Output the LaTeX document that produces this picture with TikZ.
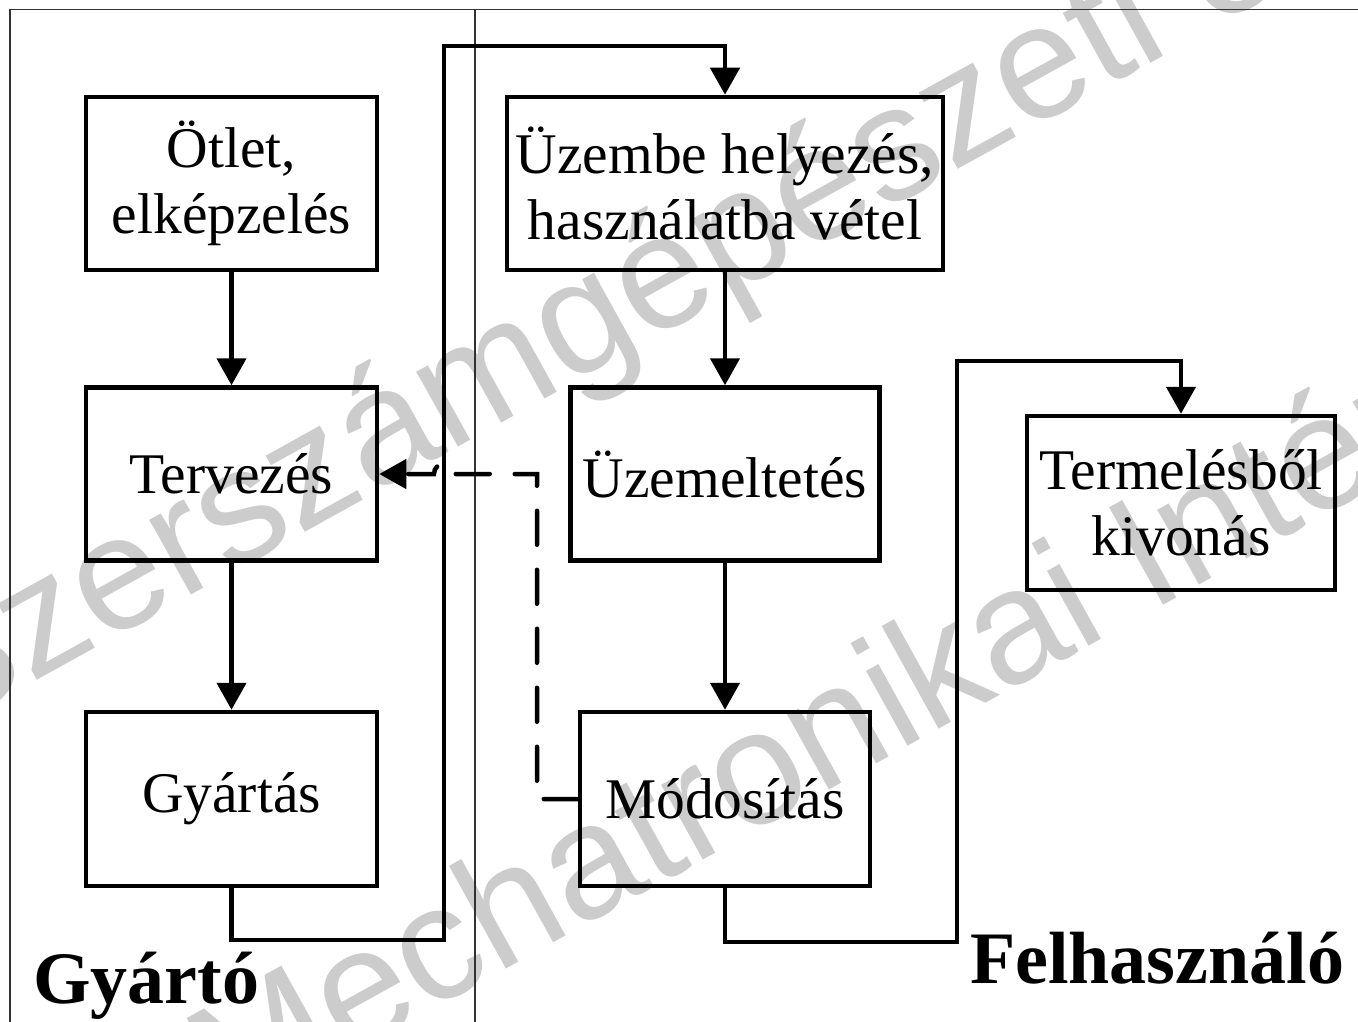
\documentclass[tikz,border=0pt]{standalone}
\usepackage{fontspec}
\setmainfont{Liberation Serif}
\newfontfamily\wmfont{Liberation Sans}
\usetikzlibrary{arrows.meta}
\definecolor{wmgray}{RGB}{204,204,204}
\definecolor{framegray}{RGB}{50,50,50}

\begin{document}
\begin{tikzpicture}[x=1pt,y=-1pt,
  proc/.style={draw, line width=4.5pt, inner sep=0pt, align=center,
    font=\fontsize{57.5}{66}\selectfont},
  flow/.style={line width=4.5pt, line join=miter,
    -{Triangle[length=27pt,width=29pt]}},
  feedback/.style={line width=4.5pt, line cap=round, dash pattern=on 34pt off 25pt,
    -{Triangle[length=27pt,width=29pt]}},
  side/.style={font=\bfseries\fontsize{74}{74}\selectfont, anchor=base west, inner sep=0pt},
  wm/.style={text=wmgray, font=\wmfont\fontsize{162}{162}\selectfont,
    rotate=29, anchor=base west, inner sep=0pt},
  frameline/.style={draw=framegray, line width=1.2pt}]

\useasboundingbox (0,0) rectangle (1358,1022);

% background watermark and the two-column frame
\begin{scope}
  \clip (0,0) rectangle (1358,1022);
  \node[wm] (wm1) at (-63,736) {Szerszámgépészeti és};
  \node[wm] (wm2) at (229,1123) {Mechatronikai Intézet};
  \draw[frameline] (10,9.5) -- (1370,9.5);
  \draw[frameline] (10,9.5) -- (10,1030);
  \draw[frameline] (475,9.5) -- (475,1030);
\end{scope}

% process steps
\node[proc, minimum width=291pt, minimum height=173pt] (otlet)  at (231.5,183.5) {Ötlet,\\elképzelés};
\node[proc, minimum width=291pt, minimum height=173pt] (terv)   at (231.5,474)   {Tervezés};
\node[proc, minimum width=291pt, minimum height=174pt] (gyart)  at (231.5,799)   {Gyártás};
\node[proc, minimum width=436pt, minimum height=173pt] (uzembe) at (725,183.5)   {Üzembe helyezés,\\használatba vétel};
\node[proc, minimum width=309pt, minimum height=173pt] (uzem)   at (725,474)     {Üzemeltetés};
\node[proc, minimum width=290pt, minimum height=174pt] (mod)    at (725,799)     {Módosítás};
\node[proc, minimum width=308pt, minimum height=174pt] (termel) at (1181,503)    {Termelésből\\kivonás};

% side labels
\node[side] (gyarto) at (33,1003) {Gyártó};
\node[side] (felh)   at (970,983) {Felhasználó};

% routing points
\coordinate (g1) at (444,940);
\coordinate (g2) at (444,46);
\coordinate (m1) at (957,942);
\coordinate (m2) at (957,361);
\coordinate (d1) at (537,799);
\coordinate (d2) at (537,474);
\coordinate (h1) at (454,474);
\coordinate (h2) at (434,474);

% solid flow
\draw[flow] (otlet) -- (terv);
\draw[flow] (terv) -- (gyart);
\draw[flow] (uzembe) -- (uzem);
\draw[flow] (uzem) -- (mod);
\draw[flow] (gyart.south) |- (g1) -- (g2) -| (uzembe.north);
\draw[flow] (mod.south) |- (m1) -- (m2) -| (termel.north);

% dashed feedback with a hop over the vertical connector
\draw[feedback] (mod.west) -- (d1) -- (d2) -- (h1)
  .. controls (454,460.7) and (434,460.7) .. (h2) -- (terv.east);

\end{tikzpicture}
\end{document}
